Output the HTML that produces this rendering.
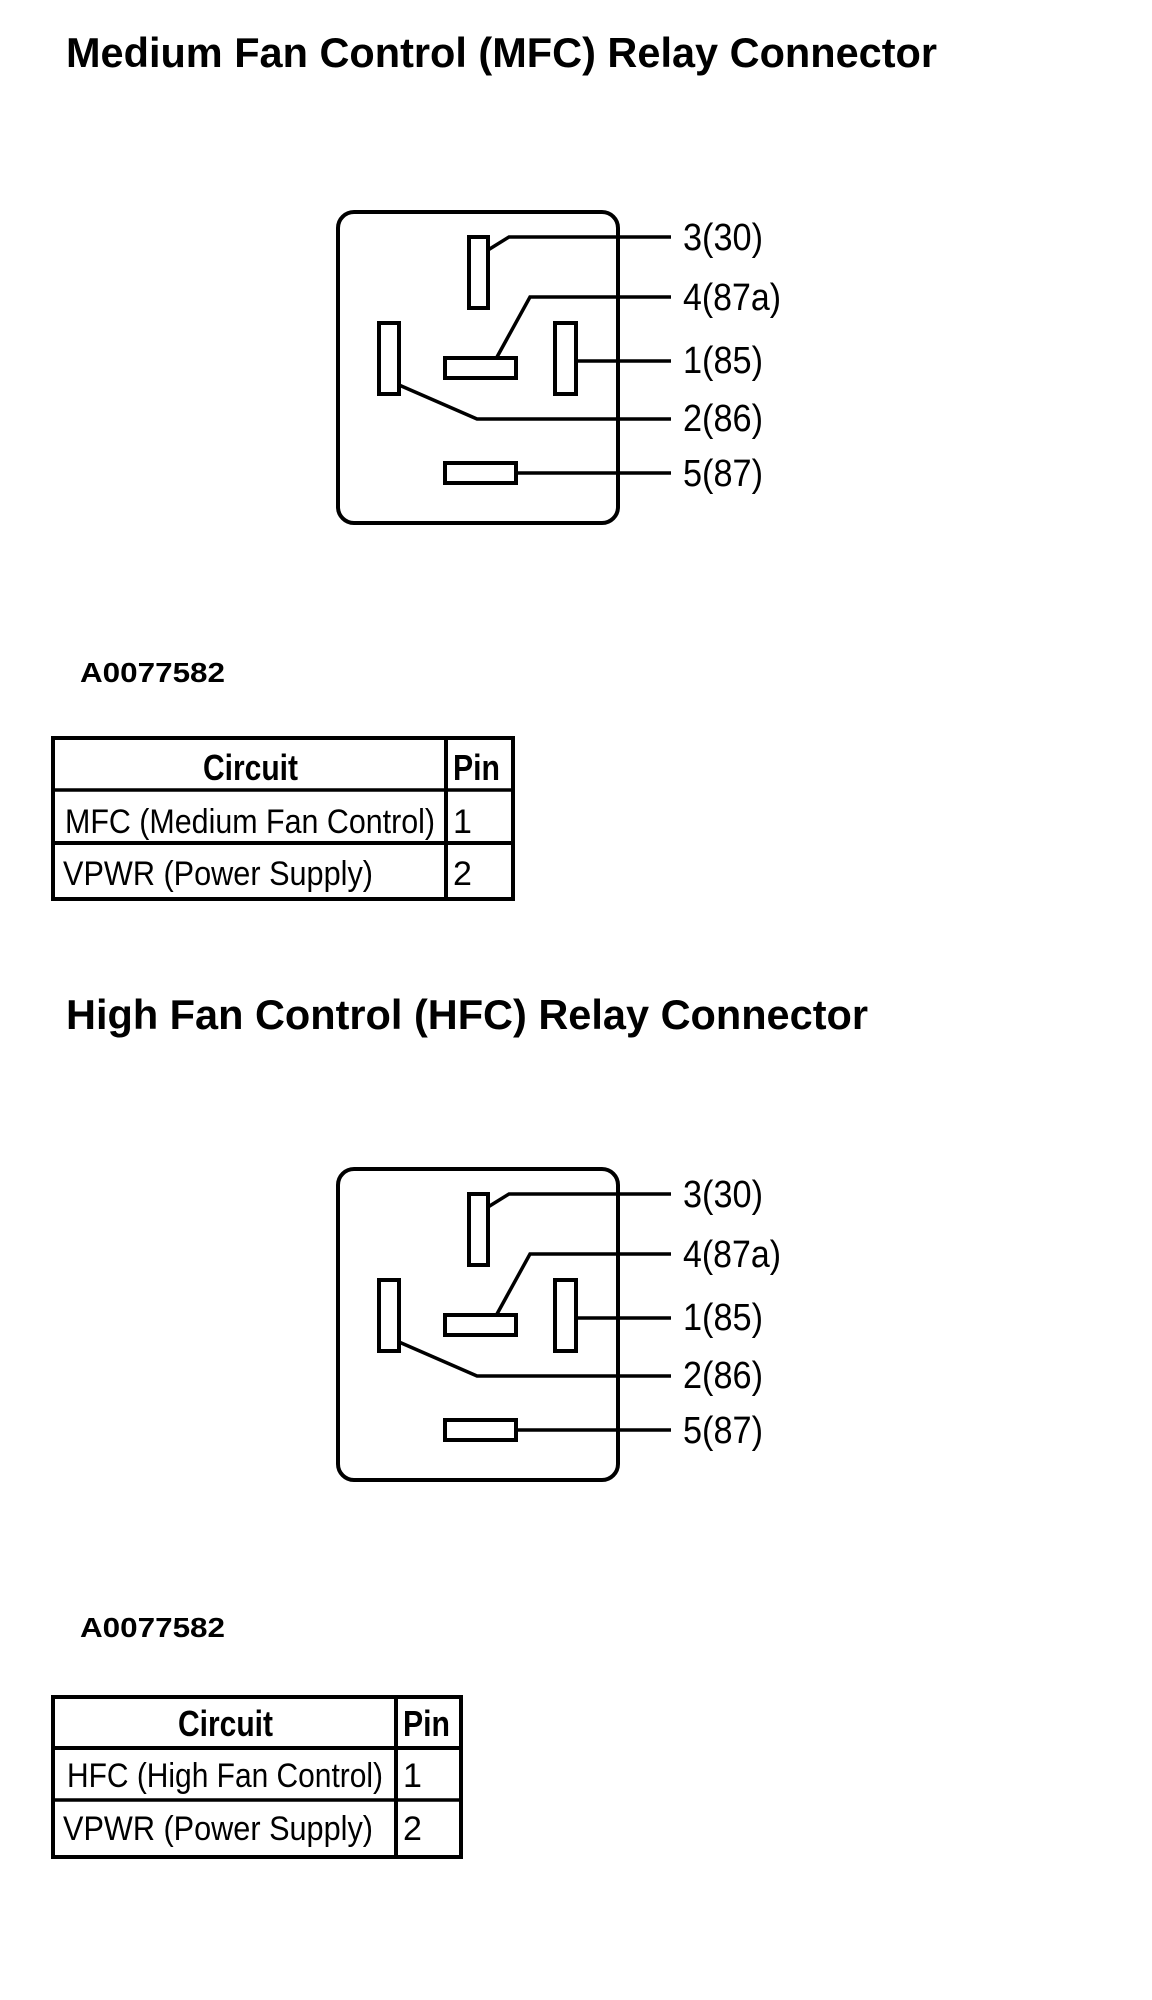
<!DOCTYPE html>
<html><head><meta charset="utf-8"><style>html,body{margin:0;padding:0;background:#fff}svg{display:block}</style></head>
<body>
<svg width="1152" height="2000" viewBox="0 0 1152 2000" xmlns="http://www.w3.org/2000/svg" font-family="Liberation Sans, Arial, sans-serif">
<defs>
<g id="relay" fill="none" stroke="#000">
  <rect x="338" y="212" width="280" height="311" rx="16" stroke-width="4"/>
  <rect x="469" y="237" width="19" height="71" stroke-width="4"/>
  <rect x="445" y="358" width="71" height="20" stroke-width="4"/>
  <rect x="555" y="323" width="21" height="71" stroke-width="4"/>
  <rect x="379" y="323" width="20" height="71" stroke-width="4"/>
  <rect x="445" y="463" width="71" height="20" stroke-width="4"/>
  <polyline points="488,250 509,237 671,237" stroke-width="3.5"/>
  <polyline points="497,357 530,297 671,297" stroke-width="3.5"/>
  <line x1="576" y1="361" x2="671" y2="361" stroke-width="3.5"/>
  <polyline points="399,385 477,419 671,419" stroke-width="3.5"/>
  <line x1="516" y1="473" x2="671" y2="473" stroke-width="3.5"/>
  <g fill="#000" stroke="none" font-size="38">
    <text x="683" y="250" textLength="80" lengthAdjust="spacingAndGlyphs">3(30)</text>
    <text x="683" y="310" textLength="98" lengthAdjust="spacingAndGlyphs">4(87a)</text>
    <text x="683" y="373" textLength="80" lengthAdjust="spacingAndGlyphs">1(85)</text>
    <text x="683" y="431" textLength="80" lengthAdjust="spacingAndGlyphs">2(86)</text>
    <text x="683" y="486" textLength="80" lengthAdjust="spacingAndGlyphs">5(87)</text>
  </g>
</g>
</defs>

<text x="66" y="67" font-size="42" font-weight="bold" textLength="871" lengthAdjust="spacingAndGlyphs">Medium Fan Control (MFC) Relay Connector</text>
<use href="#relay"/>
<text x="80" y="682" font-size="28" font-weight="bold" textLength="145" lengthAdjust="spacingAndGlyphs">A0077582</text>
<g fill="none" stroke="#000">
  <rect x="53" y="738" width="460" height="161" stroke-width="4"/>
  <line x1="446" y1="738" x2="446" y2="899" stroke-width="4"/>
  <line x1="53" y1="790" x2="513" y2="790" stroke-width="3.5"/>
  <line x1="53" y1="843" x2="513" y2="843" stroke-width="4"/>
</g>
<text x="203" y="780" font-size="36" font-weight="bold" textLength="95" lengthAdjust="spacingAndGlyphs">Circuit</text>
<text x="453" y="780" font-size="36" font-weight="bold" textLength="47" lengthAdjust="spacingAndGlyphs">Pin</text>
<text x="65" y="833" font-size="34" textLength="370" lengthAdjust="spacingAndGlyphs">MFC (Medium Fan Control)</text>
<text x="453" y="833" font-size="34">1</text>
<text x="63" y="885" font-size="34" textLength="310" lengthAdjust="spacingAndGlyphs">VPWR (Power Supply)</text>
<text x="453" y="885" font-size="34">2</text>

<text x="66" y="1029" font-size="42" font-weight="bold" textLength="802" lengthAdjust="spacingAndGlyphs">High Fan Control (HFC) Relay Connector</text>
<use href="#relay" transform="translate(0,957)"/>
<text x="80" y="1637" font-size="28" font-weight="bold" textLength="145" lengthAdjust="spacingAndGlyphs">A0077582</text>
<g fill="none" stroke="#000">
  <rect x="53" y="1697" width="408" height="160" stroke-width="4"/>
  <line x1="396" y1="1697" x2="396" y2="1857" stroke-width="4"/>
  <line x1="53" y1="1748" x2="461" y2="1748" stroke-width="4"/>
  <line x1="53" y1="1800" x2="461" y2="1800" stroke-width="3.5"/>
</g>
<text x="178" y="1736" font-size="36" font-weight="bold" textLength="95" lengthAdjust="spacingAndGlyphs">Circuit</text>
<text x="403" y="1736" font-size="36" font-weight="bold" textLength="47" lengthAdjust="spacingAndGlyphs">Pin</text>
<text x="67" y="1787" font-size="34" textLength="316" lengthAdjust="spacingAndGlyphs">HFC (High Fan Control)</text>
<text x="403" y="1787" font-size="34">1</text>
<text x="63" y="1840" font-size="34" textLength="310" lengthAdjust="spacingAndGlyphs">VPWR (Power Supply)</text>
<text x="403" y="1840" font-size="34">2</text>
</svg>
</body></html>
